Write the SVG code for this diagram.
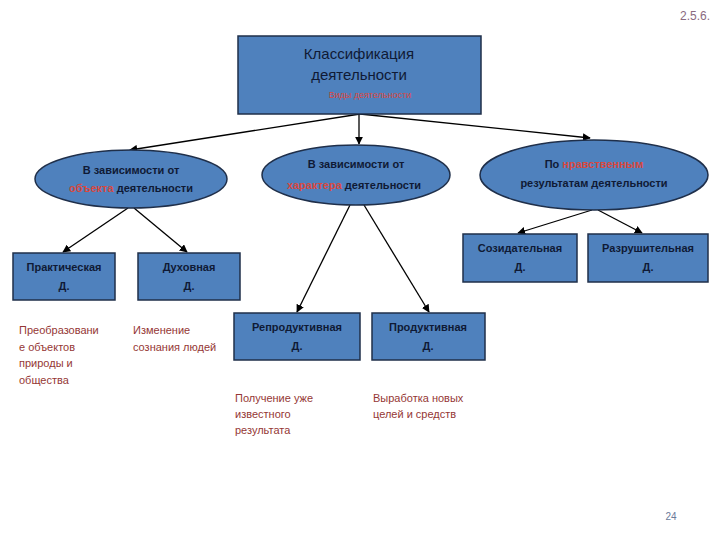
<svg xmlns="http://www.w3.org/2000/svg" width="720" height="540" viewBox="0 0 720 540">
<defs>
<marker id="arr" viewBox="0 0 10 10" refX="9" refY="5" markerWidth="8" markerHeight="8" orient="auto" markerUnits="userSpaceOnUse"><path d="M0,0 L10,5 L0,10 z" fill="#000"/></marker>
<style>
.box{fill:#4F81BD;stroke:#1F2F4A;stroke-width:1.5}
.t{font-family:"Liberation Sans",Arial,sans-serif;fill:#0F1A35;text-anchor:middle}
.b{font-weight:bold;font-size:11px}
.red{fill:#D9483F}
.desc{font-family:"Liberation Sans",Arial,sans-serif;font-size:11px;fill:#953735}
.con{stroke:#000;stroke-width:1.3;fill:none;marker-end:url(#arr)}
</style>
</defs>
<rect width="720" height="540" fill="#fff"/>
<text x="710" y="20" font-family="Liberation Sans,Arial,sans-serif" font-size="12" fill="#8A6A80" text-anchor="end">2.5.6.</text>
<text x="671" y="520" font-family="Liberation Sans,Arial,sans-serif" font-size="10" fill="#6A7A9A" text-anchor="middle">24</text>

<g id="connectors">
<line class="con" x1="360" y1="114" x2="130" y2="150"/>
<line class="con" x1="359" y1="114" x2="359" y2="144"/>
<line class="con" x1="360" y1="114" x2="590" y2="138"/>
<line class="con" x1="128" y1="208" x2="63" y2="252"/>
<line class="con" x1="134" y1="208" x2="187" y2="252"/>
<line class="con" x1="350" y1="205" x2="297" y2="312"/>
<line class="con" x1="364" y1="205" x2="429" y2="312"/>
<line class="con" x1="592" y1="210" x2="518" y2="233"/>
<line class="con" x1="598" y1="210" x2="642" y2="233"/>
</g>

<g id="root">
<rect class="box" x="238" y="36" width="243" height="78"/>
<text class="t" x="359" y="59" font-size="15">Классификация</text>
<text class="t" x="359" y="80" font-size="15">деятельности</text>
<text class="t red" x="370" y="98" font-size="9">Виды деятельности</text>
</g>

<g id="e-object">
<ellipse class="box" cx="131" cy="179" rx="96" ry="29"/>
<text class="t b" x="131" y="174">В зависимости от</text>
<text class="t b" x="131" y="192"><tspan class="red">объекта</tspan> деятельности</text>
</g>

<g id="e-character">
<ellipse class="box" cx="356" cy="175" rx="94" ry="30"/>
<text class="t b" x="356" y="168">В зависимости от</text>
<text class="t b" x="354" y="189"><tspan class="red">характера</tspan> деятельности</text>
</g>

<g id="e-results">
<ellipse class="box" cx="594" cy="175" rx="114" ry="35"/>
<text class="t b" x="594" y="168">По <tspan class="red">нравственным</tspan></text>
<text class="t b" x="594" y="187">результатам деятельности</text>
</g>

<g id="practical">
<rect class="box" x="13" y="253" width="102" height="47"/>
<text class="t b" x="64" y="271">Практическая</text>
<text class="t b" x="64" y="290">Д.</text>
</g>

<g id="spiritual">
<rect class="box" x="138" y="253" width="102" height="47"/>
<text class="t b" x="189" y="271">Духовная</text>
<text class="t b" x="189" y="290">Д.</text>
</g>

<g id="reproductive">
<rect class="box" x="234" y="313" width="126" height="47"/>
<text class="t b" x="297" y="331">Репродуктивная</text>
<text class="t b" x="297" y="350">Д.</text>
</g>

<g id="productive">
<rect class="box" x="372" y="313" width="113" height="47"/>
<text class="t b" x="428" y="331">Продуктивная</text>
<text class="t b" x="428" y="350">Д.</text>
</g>

<g id="creative">
<rect class="box" x="463" y="234" width="114" height="48"/>
<text class="t b" x="520" y="252">Созидательная</text>
<text class="t b" x="520" y="271">Д.</text>
</g>

<g id="destructive">
<rect class="box" x="588" y="234" width="120" height="48"/>
<text class="t b" x="648" y="252">Разрушительная</text>
<text class="t b" x="648" y="271">Д.</text>
</g>

<g id="descriptions">
<text class="desc" x="19" y="334">Преобразовани</text>
<text class="desc" x="19" y="351">е  объектов</text>
<text class="desc" x="19" y="367">природы и</text>
<text class="desc" x="19" y="384">общества</text>
<text class="desc" x="133" y="334">Изменение</text>
<text class="desc" x="133" y="351">сознания людей</text>
<text class="desc" x="235" y="402">Получение уже</text>
<text class="desc" x="235" y="418">известного</text>
<text class="desc" x="235" y="434">результата</text>
<text class="desc" x="373" y="402">Выработка новых</text>
<text class="desc" x="373" y="418">целей и средств</text>
</g>
</svg>
